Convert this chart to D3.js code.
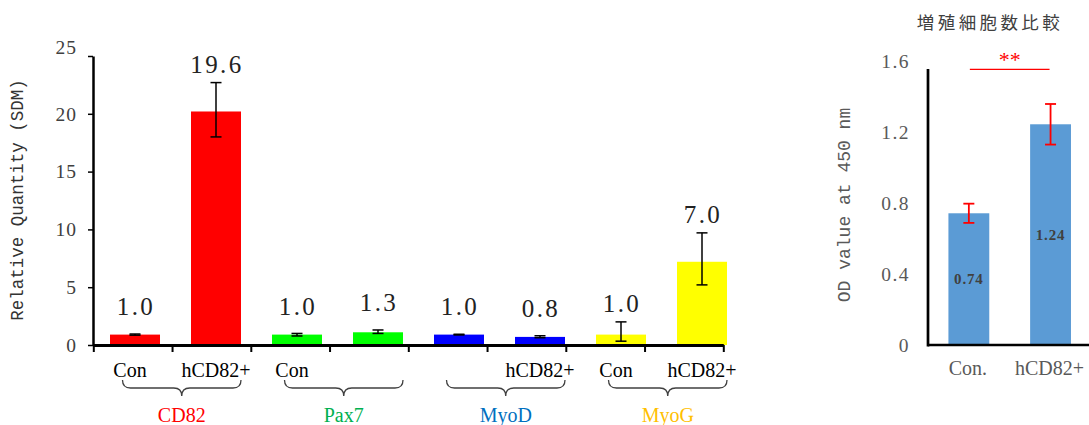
<!DOCTYPE html>
<html>
<head>
<meta charset="utf-8">
<script src="https://cdn.jsdelivr.net/npm/d3@7"></script>
<style>
  body { margin: 0; background: #fff; }
  svg { display: block; }
</style>
</head>
<body>
<script>
// left panel: relative quantity per gene
const genes = ["CD82", "Pax7", "MyoD", "MyoG"];
const bars = ["CD82-Con", "CD82-hCD82+", "Pax7-Con", "Pax7-hCD82+", "MyoD-Con", "MyoD-hCD82+", "MyoG-Con", "MyoG-hCD82+"];
const barLabels = ["Con", "hCD82+", "Con", "", "", "hCD82+", "Con", "hCD82+"];
const quantity = [0.9, 20.2, 0.9, 1.1, 0.9, 0.7, 0.9, 7.2];
const quantityText = ["1.0", "19.6", "1.0", "1.3", "1.0", "0.8", "1.0", "7.0"];
const errHigh = [0.95, 22.7, 1.0, 1.3, 0.93, 0.8, 2.0, 9.7];
const errLow = [0.85, 18.0, 0.78, 1.0, 0.87, 0.63, 0.33, 5.2];
const yTicks = [0, 5, 10, 15, 20, 25];

// right panel: OD at 450 nm
const odTitle = "増殖細胞数比較";
const odCats = ["Con.", "hCD82+"];
const odValues = [0.74, 1.24];
const odErr = [0.054, 0.114];
const odTicks = [0, 0.4, 0.8, 1.2, 1.6];

const barColors = ["#ff0000", "#ff0000", "#00ff00", "#00ff00", "#0000ff", "#0000ff", "#ffff00", "#ffff00"];
const geneColors = ["#ff0000", "#00b050", "#0070c0", "#ffc000"];

const serif = "'Liberation Serif', 'DejaVu Serif', serif";
const mono = "'Liberation Mono', 'DejaVu Sans Mono', monospace";

const svg = d3.select("body")
              .append("svg")
              .attr("width", 1089)
              .attr("height", 425);

// ---------- left chart ----------
const x = d3.scaleBand()
            .domain(bars)
            .range([94.5, 742.5])
            .paddingInner(31 / 81)
            .paddingOuter(15.5 / 81);

const xTickScale = d3.scaleLinear()
                     .domain([0, bars.length])
                     .range([93.3, 723.3]);

const y = d3.scaleLinear()
            .domain([0, 25])
            .range([345, 56]);

const yAxis = svg.append("g")
                 .attr("transform", "translate(93,0)")
                 .call(d3.axisLeft(y).tickValues(yTicks).tickSize(5).tickSizeOuter(0).tickPadding(11));
yAxis.select(".domain").attr("stroke", "#000").attr("stroke-width", 2.5);
yAxis.selectAll(".tick line").attr("stroke", "#000").attr("stroke-width", 1.5);
yAxis.selectAll(".tick text")
     .attr("font-family", serif)
     .attr("font-size", 19.5)
     .attr("letter-spacing", 1)
     .attr("fill", "#404040")
     .attr("dy", d => d === 25 ? "-0.15em" : "0.32em");

svg.append("text")
   .attr("transform", "translate(18,200) rotate(-90)")
   .attr("text-anchor", "middle")
   .attr("dominant-baseline", "central")
   .attr("font-family", mono)
   .attr("font-size", 17.5)
   .attr("fill", "#333")
   .text("Relative Quantity (SDM)");

svg.selectAll(".bar")
   .data(bars)
   .enter()
   .append("rect")
   .attr("class", "bar")
   .attr("x", d => x(d))
   .attr("width", x.bandwidth())
   .attr("y", (d, i) => y(quantity[i]))
   .attr("height", (d, i) => y(0) - y(quantity[i]))
   .attr("fill", (d, i) => barColors[i]);

const xAxis = svg.append("g")
                 .attr("transform", "translate(0,345)")
                 .call(d3.axisBottom(xTickScale).ticks(bars.length).tickFormat("").tickSize(7).tickSizeOuter(0));
xAxis.select(".domain").attr("stroke", "#000").attr("stroke-width", 3);
xAxis.selectAll(".tick line").attr("stroke", "#000").attr("stroke-width", 2);

// error bars
const err = svg.selectAll(".err")
               .data(bars)
               .enter()
               .append("g")
               .attr("class", "err")
               .attr("stroke", "#000")
               .attr("stroke-width", 1.5);
err.append("line")
   .attr("x1", d => x(d) + x.bandwidth() / 2)
   .attr("x2", d => x(d) + x.bandwidth() / 2)
   .attr("y1", (d, i) => y(errHigh[i]))
   .attr("y2", (d, i) => y(errLow[i]));
err.append("line")
   .attr("x1", d => x(d) + x.bandwidth() / 2 - 5.5)
   .attr("x2", d => x(d) + x.bandwidth() / 2 + 5.5)
   .attr("y1", (d, i) => y(errHigh[i]))
   .attr("y2", (d, i) => y(errHigh[i]));
err.append("line")
   .attr("x1", d => x(d) + x.bandwidth() / 2 - 5.5)
   .attr("x2", d => x(d) + x.bandwidth() / 2 + 5.5)
   .attr("y1", (d, i) => y(errLow[i]))
   .attr("y2", (d, i) => y(errLow[i]));

// value labels
svg.selectAll(".val")
   .data(bars)
   .enter()
   .append("text")
   .attr("class", "val")
   .attr("x", d => x(d) + x.bandwidth() / 2 + 1)
   .attr("y", (d, i) => Math.min(y(+quantityText[i]) - 27, y(errHigh[i]) - 18))
   .attr("text-anchor", "middle")
   .attr("dominant-baseline", "central")
   .attr("font-family", serif)
   .attr("font-size", 25)
   .attr("letter-spacing", 2.4)
   .attr("fill", "#222")
   .text((d, i) => quantityText[i]);

// Con / hCD82+ labels
svg.selectAll(".cat")
   .data(bars)
   .enter()
   .append("text")
   .attr("class", "cat")
   .attr("x", (d, i) => x(d) + x.bandwidth() / 2 + (barLabels[i] === "Con" ? -5 : 0))
   .attr("y", 370)
   .attr("text-anchor", "middle")
   .attr("dominant-baseline", "central")
   .attr("font-family", serif)
   .attr("font-size", 20)
   .attr("fill", "#000")
   .text((d, i) => barLabels[i]);

// braces + gene names
genes.forEach((g, k) => {
  const xa = x(bars[2 * k]) + x.bandwidth() / 4;
  const xb = x(bars[2 * k + 1]) + x.bandwidth();
  const mid = (xa + xb) / 2;
  const p = d3.path();
  p.moveTo(xa, 380);
  p.quadraticCurveTo(xa, 388, xa + 8, 388);
  p.lineTo(mid - 8, 388);
  p.quadraticCurveTo(mid, 388, mid, 396);
  p.quadraticCurveTo(mid, 388, mid + 8, 388);
  p.lineTo(xb - 8, 388);
  p.quadraticCurveTo(xb, 388, xb, 380);
  svg.append("path")
     .attr("d", p.toString())
     .attr("fill", "none")
     .attr("stroke", "#404040")
     .attr("stroke-width", 1.3);
  svg.append("text")
     .attr("x", mid)
     .attr("y", 415)
     .attr("text-anchor", "middle")
     .attr("dominant-baseline", "central")
     .attr("font-family", serif)
     .attr("font-size", 20)
     .attr("fill", geneColors[k])
     .text(g);
});

// ---------- right chart ----------
const xR = d3.scaleBand()
             .domain(odCats)
             .range([928, 1091.4])
             .paddingInner(0.5)
             .paddingOuter(0.25);

const yR = d3.scaleLinear()
             .domain([0, 1.6])
             .range([345, 60.2]);

svg.append("text")
   .attr("x", 990)
   .attr("y", 21)
   .attr("text-anchor", "middle")
   .attr("dominant-baseline", "central")
   .attr("font-family", "'Noto Sans CJK JP', sans-serif")
   .attr("font-size", 17.5)
   .attr("letter-spacing", 3.4)
   .attr("fill", "#404040")
   .text(odTitle);

const yAxisR = svg.append("g")
                  .attr("transform", "translate(928,0)")
                  .call(d3.axisLeft(yR).tickValues(odTicks).tickSize(0).tickPadding(18).tickFormat(d => d === 0 ? "0" : d3.format(".1f")(d)));
yAxisR.select(".domain").remove();
yAxisR.selectAll(".tick text")
      .attr("font-family", serif)
      .attr("font-size", 19.5)
      .attr("letter-spacing", 1.5)
      .attr("fill", "#595959")
      .attr("dy", "0.35em");

svg.append("line")
   .attr("x1", 928).attr("x2", 928)
   .attr("y1", yR(1.55)).attr("y2", yR(0) + 1.5)
   .attr("stroke", "#000")
   .attr("stroke-width", 2.7);

svg.append("text")
   .attr("transform", "translate(845,205) rotate(-90)")
   .attr("text-anchor", "middle")
   .attr("dominant-baseline", "central")
   .attr("font-family", mono)
   .attr("font-size", 18)
   .attr("fill", "#595959")
   .text("OD value at 450 nm");

svg.selectAll(".odbar")
   .data(odCats)
   .enter()
   .append("rect")
   .attr("class", "odbar")
   .attr("x", d => xR(d))
   .attr("width", xR.bandwidth())
   .attr("y", (d, i) => yR(odValues[i]))
   .attr("height", (d, i) => yR(0) - yR(odValues[i]))
   .attr("fill", "#5b9bd5");

svg.append("line")
   .attr("x1", 928).attr("x2", 1089)
   .attr("y1", 345).attr("y2", 345)
   .attr("stroke", "#000")
   .attr("stroke-width", 2.7);

const odErrG = svg.selectAll(".oderr")
                  .data(odCats)
                  .enter()
                  .append("g")
                  .attr("class", "oderr")
                  .attr("stroke", "#ff0000")
                  .attr("stroke-width", 1.8);
odErrG.append("line")
      .attr("x1", d => xR(d) + xR.bandwidth() / 2)
      .attr("x2", d => xR(d) + xR.bandwidth() / 2)
      .attr("y1", (d, i) => yR(odValues[i] + odErr[i]))
      .attr("y2", (d, i) => yR(odValues[i] - odErr[i]));
[1, -1].forEach(s => {
  odErrG.append("line")
        .attr("x1", d => xR(d) + xR.bandwidth() / 2 - 5.5)
        .attr("x2", d => xR(d) + xR.bandwidth() / 2 + 5.5)
        .attr("y1", (d, i) => yR(odValues[i] + s * odErr[i]))
        .attr("y2", (d, i) => yR(odValues[i] + s * odErr[i]));
});

svg.selectAll(".odval")
   .data(odCats)
   .enter()
   .append("text")
   .attr("class", "odval")
   .attr("x", d => xR(d) + xR.bandwidth() / 2)
   .attr("y", (d, i) => yR(odValues[i] / 2))
   .attr("text-anchor", "middle")
   .attr("dominant-baseline", "central")
   .attr("font-family", serif)
   .attr("font-weight", "bold")
   .attr("font-size", 15)
   .attr("letter-spacing", 0.8)
   .attr("fill", "#404040")
   .text((d, i) => d3.format(".2f")(odValues[i]));

svg.selectAll(".odcat")
   .data(odCats)
   .enter()
   .append("text")
   .attr("class", "odcat")
   .attr("x", d => xR(d) + xR.bandwidth() / 2 - 1)
   .attr("y", 368)
   .attr("text-anchor", "middle")
   .attr("dominant-baseline", "central")
   .attr("font-family", serif)
   .attr("font-size", 20)
   .attr("fill", "#595959")
   .text(d => d);

// significance bracket
const c0 = xR(odCats[0]) + xR.bandwidth() / 2;
const c1 = xR(odCats[1]) + xR.bandwidth() / 2;
svg.append("line")
   .attr("x1", c0 + 1).attr("x2", c1 - 1)
   .attr("y1", 69.3).attr("y2", 69.3)
   .attr("stroke", "#ff0000")
   .attr("stroke-width", 1.3);
svg.append("text")
   .attr("x", (c0 + c1) / 2)
   .attr("y", 67)
   .attr("text-anchor", "middle")
   .attr("font-family", serif)
   .attr("font-size", 22)
   .attr("fill", "#ff0000")
   .text("**");
</script>
</body>
</html>
